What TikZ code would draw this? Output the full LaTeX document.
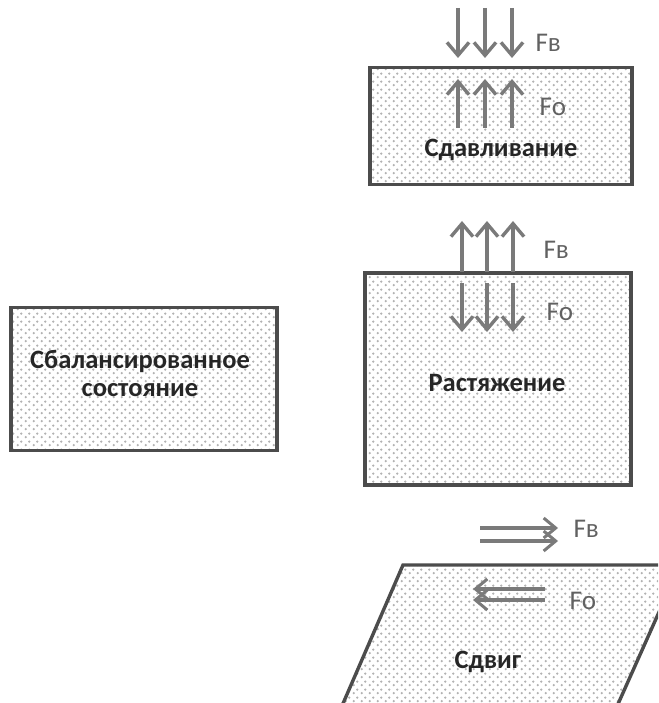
\documentclass[tikz,border=0pt]{standalone}
\usepackage{fontspec}
\setmainfont{Carlito}
\usepackage{tikz}
\usetikzlibrary{arrows.meta,positioning,patterns}

% staggered grey dots, as in the filled blocks
\pgfdeclarepatternformonly{hexdots}{\pgfpointorigin}{\pgfpoint{8pt}{8pt}}{\pgfpoint{8pt}{8pt}}{%
  \pgfpathcircle{\pgfpoint{2pt}{2pt}}{1.4pt}%
  \pgfpathcircle{\pgfpoint{6pt}{6pt}}{1.4pt}%
  \pgfusepath{fill}}

\tikzset{
  block/.style={draw=black!70, line width=3.4pt, pattern=hexdots, pattern color=black!30},
  force/.style={draw=black!52, line width=3.6pt, -{Straight Barb[length=13pt,width=22pt,line width=3.4pt]}},
  hforce/.style={draw=black!52, line width=3.2pt, -{Straight Barb[length=12pt,width=20pt,line width=3pt]}},
  flabel/.style={font=\fontsize{27}{29}\selectfont, text=black!62, anchor=west},
  btext/.style={font=\bfseries\fontsize{26.5}{28}\selectfont, text=black!85, align=center}
}

\begin{document}
\begin{tikzpicture}[x = 1pt, y = -1pt]
\useasboundingbox (0,0) rectangle (658,703);
\clip (0,0) rectangle (658,703);

% balanced state
\node[block, minimum width=266pt, minimum height=143pt] (bal) at (144,379) {};
\node[btext] (baltext) at (140,373) {Сбалансированное\\состояние};

% compression
\node[block, minimum width=262pt, minimum height=117pt] (comp) at (501,126) {};
\node[btext] (comptext) at (501,150) {Сдавливание};
\foreach \x in {458,485,512} {
  \draw[force] (\x,8) -- (\x,58);
  \draw[force] (\x,128) -- (\x,79);
}
\node[flabel] (compfb) at (532,43) {Fв};
\node[flabel] (compfo) at (536,107) {Fо};

% tension
\node[block, minimum width=266pt, minimum height=212pt] (tens) at (498,379) {};
\node[btext] (tenstext) at (497,383) {Растяжение};
\foreach \x in {462,487,513} {
  \draw[force] (\x,272) -- (\x,221);
  \draw[force] (\x,283) -- (\x,332);
}
\node[flabel] (tensfb) at (540,250) {Fв};
\node[flabel] (tensfo) at (543,312) {Fо};

% shear
\draw[block] (403,565) -- (680,565) -- (610,722) -- (335,722) -- cycle;
\node[btext] (sheartext) at (488,662) {Сдвиг};
\foreach \y in {528,541} \draw[hforce] (480,\y) -- (558,\y);
\foreach \y in {589,600} \draw[hforce] (545,\y) -- (473,\y);
\node[flabel] (shearfb) at (570,529) {Fв};
\node[flabel] (shearfo) at (566,601) {Fо};
\end{tikzpicture}
\end{document}
